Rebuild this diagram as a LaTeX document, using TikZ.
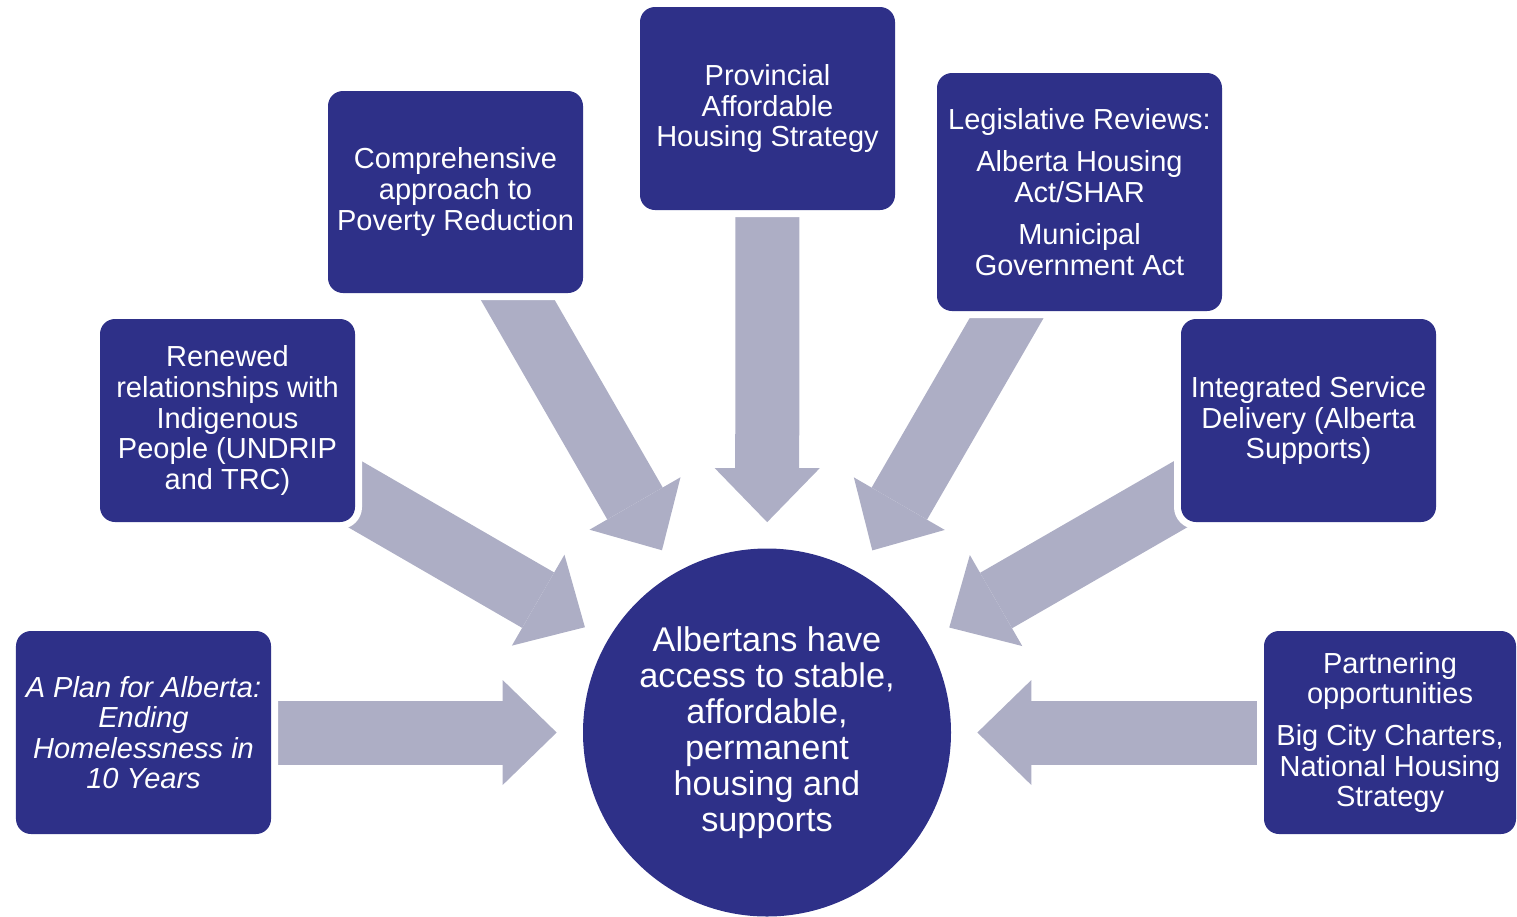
\documentclass[tikz,border=0pt]{standalone}
\usepackage{fontspec}
\setmainfont{Liberation Sans}
\usepackage{tikz}
\usetikzlibrary{arrows.meta,backgrounds}

\definecolor{planblue}{HTML}{2E3088}
\definecolor{arrowgrey}{HTML}{ADAEC5}

\tikzset{
  box/.style={fill=planblue, text=white, rounded corners=0.3cm,
    minimum width=5.1cm, minimum height=4.06cm, inner sep=0pt, align=center,
    font=\fontsize{16.5}{17.4}\selectfont,
    preaction={draw=white, line width=0.28cm}},
  italicbox/.style={box, font=\fontsize{16.5}{17.4}\selectfont\itshape},
  goal/.style={circle, fill=planblue, text=white, minimum size=7.36cm,
    inner sep=0pt, align=center, font=\fontsize{19.5}{20.5}\selectfont},
  bigarrow/.style={arrowgrey, line width=1.28cm, shorten >=0.52cm,
    -{Triangle[length=1.08cm, width=2.1cm, line width=0pt]}}
}

\begin{document}
\begin{tikzpicture}

  \useasboundingbox (0, 0) rectangle (30.34, -18.32);

    % Goal
    \node[goal] (goal) at (15.34, -14.65) {Albertans have\\access to stable,\\affordable,\\permanent\\housing and\\supports};

    % Plan for Alberta
    \node[italicbox] (plan) at (2.87, -14.65) {A Plan for Alberta:\\Ending\\Homelessness in\\10 Years};

    % Indigenous relationships
    \node[box] (renewed) at (4.55, -8.41) {Renewed\\relationships with\\Indigenous\\People (UNDRIP\\and TRC)};

    % Poverty reduction
    \node[box, minimum height=4.04cm] (poverty) at (9.11, -3.84) {Comprehensive\\approach to\\Poverty Reduction};

    % Housing strategy
    \node[box] (provincial) at (15.35, -2.17) {Provincial\\Affordable\\Housing Strategy};

    % Legislative reviews
    \node[box, minimum width=5.7cm, minimum height=4.76cm] (legislative) at (21.59, -3.84)
      {Legislative Reviews:\\[0.24cm]Alberta Housing\\Act/SHAR\\[0.24cm]Municipal\\Government Act};

    % Service delivery
    \node[box] (integrated) at (26.17, -8.41) {Integrated Service\\Delivery (Alberta\\Supports)};

    % Partnering
    \node[box, minimum width=5.04cm] (partnering) at (27.8, -14.65)
      {Partnering\\opportunities\\[0.22cm]Big City Charters,\\National Housing\\Strategy};

    % Arrows into the goal
    \begin{scope}[on background layer]
      \draw[bigarrow] (plan.center) -- (goal);
      \draw[bigarrow] (renewed.center) -- (goal);
      \draw[bigarrow] (poverty.center) -- (goal);
      \draw[bigarrow] (provincial.center) -- (goal);
      \draw[bigarrow] (legislative.center) -- (goal);
      \draw[bigarrow] (integrated.center) -- (goal);
      \draw[bigarrow] (partnering.center) -- (goal);
    \end{scope}

\end{tikzpicture}
\end{document}
